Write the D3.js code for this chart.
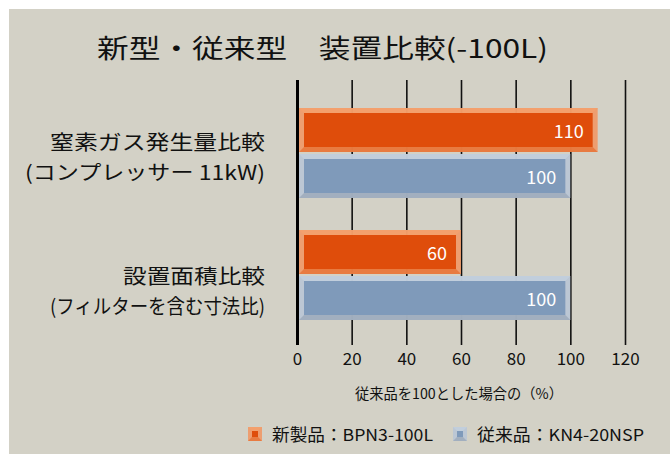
<!DOCTYPE html>
<html><head><meta charset="utf-8">
<script src="https://cdn.jsdelivr.net/npm/d3@7"></script>
<style>
html,body{margin:0;padding:0;background:#fff;}
svg{display:block;font-family:"Noto Sans CJK JP","Noto Sans",sans-serif;}
</style></head>
<body>
<svg id="c" width="670" height="454"></svg>
<script>
const title = "新型・従来型\u3000装置比較(-100L)";
const categories = ["gas", "area"];
const categoryLabels = [
  ["窒素ガス発生量比較", "(コンプレッサー 11kW)"],
  ["設置面積比較", "(フィルターを含む寸法比)"]
];
const seriesNames = ["新製品：BPN3-100L", "従来品：KN4-20NSP"];
const newValues = [110, 60];
const oldValues = [100, 100];
const tickValues = [0, 20, 40, 60, 80, 100, 120];
const axisTitle = "従来品を100とした場合の（%）";

const svg = d3.select("#c");
svg.append("rect").attr("x", 9).attr("y", 9).attr("width", 661).attr("height", 445).attr("fill", "#d3d1c6");

const x = d3.scaleLinear().domain([0, 120]).range([297, 625]);
const y0 = d3.scaleBand().domain(categories).range([92, 336]).paddingInner(32 / 122).paddingOuter(16 / 122);
const y1 = d3.scaleBand().domain([0, 1]).range([0, y0.bandwidth()]).paddingInner(2 / 46);

// title
svg.append("text").attr("x", 322.5).attr("y", 46).attr("text-anchor", "middle")
  .attr("dominant-baseline", "central").attr("font-size", 26).attr("fill", "#111")
  .attr("textLength", 451).attr("lengthAdjust", "spacingAndGlyphs").text(title);

// axis + grid
const gTop = 80, gBot = 345;
const axis = d3.axisBottom(x).tickValues(tickValues).tickSize(-(gBot - gTop)).tickPadding(8);
const ag = svg.append("g").attr("transform", `translate(0,${gBot})`).call(axis);
ag.select(".domain").remove();
ag.selectAll(".tick line").attr("stroke", "#111").attr("stroke-width", 1.6);
ag.selectAll(".tick").filter(d => d === 0).select("line").attr("stroke-width", 3).attr("stroke", "#000");
ag.selectAll(".tick text").attr("font-size", 17).attr("fill", "#111")
  .attr("font-family", '"Noto Sans CJK JP","Noto Sans",sans-serif');

svg.append("text").attr("x", 459).attr("y", 392).attr("text-anchor", "middle")
  .attr("dominant-baseline", "central").attr("font-size", 14.5).attr("fill", "#111")
  .attr("textLength", 208).attr("lengthAdjust", "spacingAndGlyphs").text(axisTitle);

// bars
const styles = [
  {outer: "#f19560", top: "#f3a06c", bottom: "#e7773c", inner: "#df4d0b"},
  {outer: "#b7c5d6", top: "#c2cfdd", bottom: "#9eacbd", inner: "#7f9aba"}
];
function bevelRect(g, bx, by, w, h, st, b) {
  g.append("rect").attr("x", bx).attr("y", by).attr("width", w).attr("height", h)
    .attr("fill", st.outer).attr("fill-opacity", 0.85);
  g.append("path").attr("d", `M${bx},${by}L${bx + w},${by}L${bx + w - b},${by + b}L${bx + b},${by + b}Z`)
    .attr("fill", st.top).attr("fill-opacity", 0.85);
  g.append("path").attr("d", `M${bx},${by + h}L${bx + w},${by + h}L${bx + w - b},${by + h - b}L${bx + b},${by + h - b}Z`)
    .attr("fill", st.bottom).attr("fill-opacity", 0.9);
  g.append("rect").attr("x", bx + b).attr("y", by + b).attr("width", w - 2 * b).attr("height", h - 2 * b)
    .attr("fill", st.inner);
}
const barsG = svg.append("g");
categories.forEach((c, i) => {
  const vals = [newValues[i], oldValues[i]];
  vals.forEach((v, s) => {
    const by = y0(c) + y1(s);
    const bx = x(0) + 2;
    const w = x(v) - bx;
    const h = y1.bandwidth();
    bevelRect(barsG, bx, by, w, h, styles[s], 5);
    barsG.append("text").attr("x", x(v) - 14).attr("y", by + h / 2).attr("text-anchor", "end")
      .attr("dominant-baseline", "central").attr("font-size", 18).attr("fill", "#fff").text(v);
  });
});

// category labels
const labOffsets = [[-12, 18], [0, 30]];
const labWidths = [[215, 240], [142, 215]];
categories.forEach((c, i) => {
  const cy = y0(c) + y0.bandwidth() / 2;
  categoryLabels[i].forEach((t, k) => {
    svg.append("text").attr("x", 265).attr("y", cy + labOffsets[i][k]).attr("text-anchor", "end")
      .attr("dominant-baseline", "central").attr("font-size", 20).attr("fill", "#111")
      .attr("textLength", labWidths[i][k]).attr("lengthAdjust", "spacingAndGlyphs").text(t);
  });
});

// legend
const legX = [248, 453];
const legW = [161, 167];
seriesNames.forEach((n, s) => {
  const g = svg.append("g");
  bevelRect(g, legX[s], 427, 14, 14, styles[s], 4);
  g.append("text").attr("x", legX[s] + 24).attr("y", 434).attr("dominant-baseline", "central")
    .attr("font-size", 16.5).attr("fill", "#111")
    .attr("textLength", legW[s]).attr("lengthAdjust", "spacingAndGlyphs").text(n);
});
</script>
</body></html>
